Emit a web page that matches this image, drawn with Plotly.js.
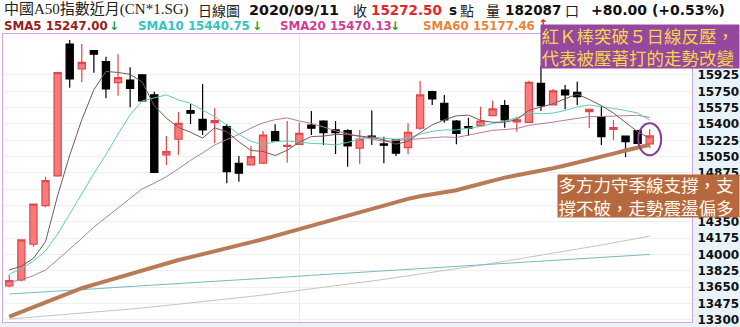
<!DOCTYPE html>
<html><head><meta charset="utf-8">
<script src="https://cdn.plot.ly/plotly-3.0.1.min.js"></script>
<style>html,body{margin:0;padding:0;background:#fff}#chart{width:740px;height:327px}</style>
</head><body><div id="chart"></div>
<script>
// ---------- data ----------
const days = Array.from({length: 54}, (_, i) => i);
const opens  = [13664,13728,14111,14525,14843,16257,15989,16185,16068,15843,15871,15925,15711,15068,15236,15542,15450,15414,15371,14979,14961,14979,15317,15159,15182,15389,15432,15336,15328,15140,15271,15186,15229,15146,15354,15746,15622,15432,15371,15382,15489,15596,15421,15418,15836,15604,15764,15740,15532,15478,15343,15271,15328,15186];
const highs  = [13782,14165,14545,14835,15960,16300,16257,16190,16121,16147,16008,15936,15746,15271,15532,15614,15829,15568,15397,15057,15164,15325,15397,15432,15414,15539,15440,15432,15343,15336,15543,15264,15239,15407,15861,15757,15711,15443,15467,15585,15650,15657,15478,15864,16021,15775,15818,15853,15557,15585,15443,15275,15336,15343];
const lows   = [13650,13715,14085,14507,14835,15789,15847,15950,15675,15703,15579,15639,14880,14961,15068,15400,15282,15193,14765,14782,14955,14971,15218,14985,15182,15282,15175,15079,14942,14968,15175,14979,15057,15075,15336,15604,15414,15182,15271,15375,15486,15360,15317,15418,15539,15604,15557,15604,15354,15175,15229,15043,15190,15140];
const closes = [13721,14157,14540,14792,15950,15882,16061,16147,15775,15896,15782,15646,14882,15103,15407,15515,15336,15435,14889,14872,15050,15282,15218,15170,15300,15354,15307,15307,15164,15239,15257,15172,15086,15311,15711,15668,15443,15300,15354,15432,15561,15443,15443,15847,15596,15754,15711,15692,15557,15264,15361,15210,15192.5,15272.5];
const sma5   = [13836,13875,13961,14139,14632,15064,15445,15766,15963,15952,15932,15849,15596,15462,15364,15311,15249,15359,15316,15209,15116,15106,15062,15118,15204,15265,15270,15288,15286,15274,15255,15228,15184,15213,15307,15390,15444,15487,15495,15439,15418,15418,15447,15545,15578,15617,15670,15720,15662,15596,15517,15417,15317,15247];
const sma10  = [13790,13850,13930,14040,14220,14430,14650,14870,15070,15292,15498,15647,15681,15712,15658,15621,15549,15478,15389,15287,15214,15177,15211,15217,15207,15191,15188,15175,15202,15239,15260,15249,15236,15250,15291,15322,15336,15335,15354,15373,15404,15431,15467,15520,15509,15517,15544,15583,15604,15587,15567,15544,15518,15441];
const sma20  = [13705,13730,13775,13835,13945,14055,14175,14295,14400,14505,14610,14705,14765,14835,14920,15010,15090,15175,15232,15289,15356,15412,15446,15465,15432,15406,15368,15326,15296,15263,15237,15213,15223,15234,15249,15256,15262,15255,15278,15306,15332,15340,15351,15385,15400,15420,15440,15459,15479,15480,15485,15487,15493,15470];
const sma60  = [13335,13385,13435,13485,13535,13585,13640,13678,13716,13755,13794,13833,13872,13911,13942,13973,14004,14035,14066,14097,14128,14165,14201,14238,14274,14310,14347,14383,14420,14456,14492,14527,14562,14597,14625,14645,14665,14690,14725,14760,14795,14825,14850,14873,14896,14925,14955,14985,15015,15048,15082,15116,15150,15177];
const sma120 = [13578,13585,13594,13601,13610,13617,13626,13634,13641,13650,13657,13666,13674,13681,13690,13697,13706,13714,13721,13730,13738,13745,13754,13762,13769,13778,13786,13793,13802,13810,13817,13826,13834,13841,13850,13858,13865,13874,13882,13889,13898,13906,13913,13922,13930,13937,13946,13954,13961,13970,13978,13985,13994,14002];
const sma240 = [13310,13320,13330,13340,13350,13360,13370,13381,13392,13404,13416,13428,13441,13454,13467,13480,13494,13508,13522,13537,13552,13567,13583,13599,13615,13631,13648,13665,13682,13699,13717,13735,13753,13771,13790,13809,13828,13847,13867,13887,13907,13928,13949,13970,13991,14013,14035,14057,14080,14103,14126,14150,14174,14198];
const yTicks = [13300,13475,13650,13825,14000,14175,14350,14525,14700,14875,15050,15225,15400,15575,15750,15925];
const smaNames = ['SMA5','SMA10','SMA20','SMA60'];
const smaLast  = ['15247.00','15440.75','15470.13','15177.46'];
const smaDir   = ['down','down','down','up'];
const headerTitle = '中國A50指數近月(CN*1.SG)';
const headerDate = '2020/09/11';
const lastPrice = '15272.50';
const volume = '182087';
const change = '+80.00 (+0.53%)';
const note1 = ['紅Ｋ棒突破５日線反壓，','代表被壓著打的走勢改變'];
const note2 = ['多方力守季線支撐，支','撐不破，走勢震盪偏多'];

// ---------- layout helpers ----------
const L = 3, R = 692, T = 34, B = 322;
const fx = p => (p - L) / (R - L);
const fy = p => (B - p) / (B - T);
const serif = "'Liberation Serif','Noto Sans CJK TC',serif";
const cjk = "'Noto Sans CJK TC',sans-serif";
const sans = "'DejaVu Sans',sans-serif";
function txt(text, x, y, font, extra) {
  return Object.assign({text, x: fx(x), y: fy(y), xref: 'paper', yref: 'paper',
    xanchor: 'left', yanchor: 'middle', showarrow: false, font}, extra || {});
}

const line = (y, color, width) => ({type: 'scatter', mode: 'lines', x: days, y,
  line: {color, width}, hoverinfo: 'skip', showlegend: false});

const traces = [
  line(sma240, '#c4c4c4', 1),
  line(sma120, '#6fbcc4', 1),
  line(sma60, '#b97b55', 4),
  line(sma20, '#b87b9c', 1),
  line(sma10, '#62c9c2', 1),
  line(sma5, '#7d5656', 1),
  {type: 'candlestick', x: days, open: opens, high: highs, low: lows, close: closes,
   increasing: {line: {color: '#e0474a', width: 1.2}, fillcolor: '#f87b7b'},
   decreasing: {line: {color: '#000000', width: 1.2}, fillcolor: '#000000'},
   whiskerwidth: 0, hoverinfo: 'skip', showlegend: false}
];

const annotations = [
  txt(headerTitle, 2, 9.5, {family: serif, size: 15, color: '#222'}),
  txt('日線圖', 196, 9.5, {family: cjk, size: 14, color: '#222'}),
  txt(headerDate, 247, 9.5, {family: sans, size: 14.3, color: '#111', weight: 'bold'}),
  txt('收', 351, 9.5, {family: cjk, size: 14, color: '#222'}),
  txt(lastPrice, 369, 9.5, {family: sans, size: 13.5, color: '#e4262b', weight: 'bold'}),
  txt('s', 447, 9.5, {family: sans, size: 13.5, color: '#111', weight: 'bold'}),
  txt('點', 458, 9.5, {family: cjk, size: 14, color: '#222'}),
  txt('量', 484, 9.5, {family: cjk, size: 14, color: '#222'}),
  txt(volume, 503, 9.5, {family: sans, size: 13.5, color: '#111', weight: 'bold'}),
  txt('口', 563, 9.5, {family: cjk, size: 14, color: '#222'}),
  txt(change, 589, 9.5, {family: sans, size: 14, color: '#111', weight: 'bold'}),
];
const smaColors = ['#9c1c1c', '#36c3c3', '#d43b98', '#e8843c'];
const smaX = [2, 136, 278, 421];
const arrX = [107, 250, 388, 536];
smaNames.forEach((n, i) => {
  annotations.push(txt(n + ' ' + smaLast[i], smaX[i], 26.5, {family: sans, size: 11.8, color: smaColors[i], weight: 'bold'}));
  const up = smaDir[i] === 'up';
  annotations.push(txt(up ? '↑' : '↓', arrX[i], up ? 24 : 26.5, {family: sans, size: 12, color: up ? '#e3262a' : '#2f9a3a', weight: 'bold'}));
});
annotations.push(txt(note1.join('<br>'), 540, 46.5, {family: cjk, size: 17.5, color: '#f4d64a'},
  {bgcolor: '#96489e', width: 197, height: 42, borderpad: 0.5, align: 'left', valign: 'middle'}));
annotations.push(txt(note2.join('<br>'), 557, 196, {family: cjk, size: 17.5, color: '#fff8ef'},
  {bgcolor: '#b6693f', width: 180, height: 41, borderpad: 0.5, align: 'left', valign: 'middle'}));

const n = days.length - 1;
const shapes = [
  {type: 'rect', xref: 'paper', yref: 'paper', x0: 1, x1: fx(740), y0: fy(327), y1: 1,
   fillcolor: '#e8f3fb', line: {width: 0}, layer: 'below'},
  {type: 'rect', xref: 'paper', yref: 'paper', x0: fx(0), x1: 1, y0: fy(327), y1: 0,
   fillcolor: '#e8f3fb', line: {width: 0}, layer: 'below'},
  {type: 'circle', xref: 'x', yref: 'y', x0: days[n] - 0.95, x1: days[n] + 0.95,
   y0: lows[n] - 75, y1: highs[n] + 65, line: {color: '#8b3a98', width: 2}}
];

const layout = {
  width: 740, height: 327,
  margin: {l: L, r: 740 - R, t: T, b: 327 - B, pad: 0},
  paper_bgcolor: '#ffffff', plot_bgcolor: '#ffffff',
  showlegend: false, boxgap: 0.15,
  xaxis: {range: [-0.52, 56.5], rangeslider: {visible: false}, showticklabels: false,
    tickmode: 'array', tickvals: [24], showgrid: true, gridcolor: '#e9e9e9', ticks: '',
    zeroline: false, showline: true, mirror: true, linecolor: '#cfa9d9', linewidth: 1, fixedrange: true},
  yaxis: {range: [13278, 16364], side: 'right', tickmode: 'array', tickvals: yTicks,
    ticktext: yTicks.map(String), ticks: '', ticklabelstandoff: 2, ticklabeloverflow: 'allow',
    tickfont: {family: sans, size: 12, color: '#111', weight: 'bold'},
    showgrid: true, gridcolor: '#f0f0f0', zeroline: false,
    showline: true, mirror: true, linecolor: '#cfa9d9', linewidth: 1, fixedrange: true},
  annotations, shapes
};

Plotly.newPlot('chart', traces, layout, {staticPlot: true, displayModeBar: false});
</script>
</body></html>
